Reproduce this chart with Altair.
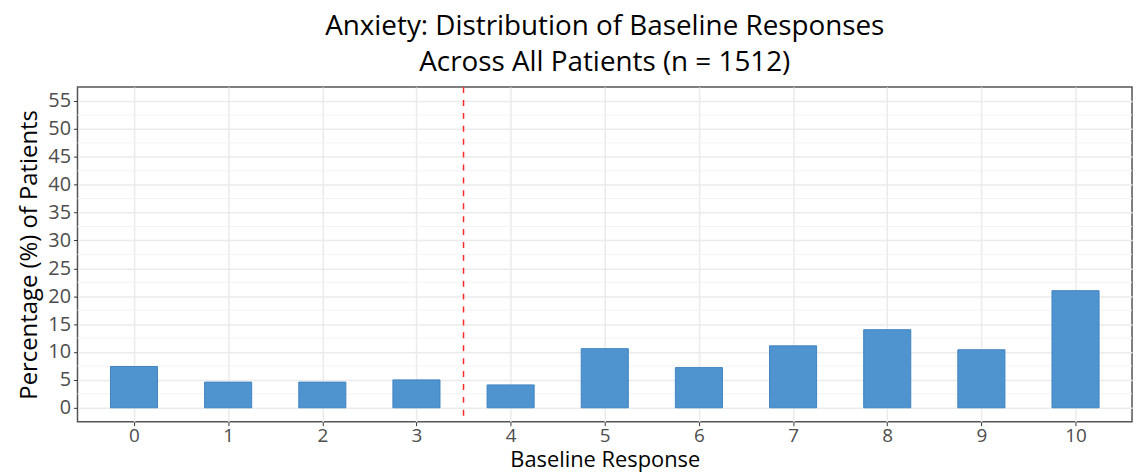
import altair as alt
import pandas as pd

responses = [0, 1, 2, 3, 4, 5, 6, 7, 8, 9, 10]
percentages = [7.4, 4.6, 4.6, 5.0, 4.1, 10.6, 7.2, 11.1, 14.0, 10.4, 21.0]
cutoff = [3.5]
major_y = [0, 5, 10, 15, 20, 25, 30, 35, 40, 45, 50, 55]
minor_y = [2.5, 7.5, 12.5, 17.5, 22.5, 27.5, 32.5, 37.5, 42.5, 47.5, 52.5]

df = pd.DataFrame({"resp": responses, "pct": percentages})

FONT = "Open Sans"
xscale = alt.Scale(domain=[-0.6, 10.6], nice=False, zero=False)
yscale = alt.Scale(domain=[-2.5, 57.5], nice=False, zero=False)

yaxis = alt.Axis(values=major_y, title="Percentage (%) of Patients", grid=True,
                 gridColor="#ebebeb", gridWidth=1.5,
                 labelFontSize=20, labelColor="#4d4d4d", labelFont=FONT,
                 titleFontSize=24, titleFont=FONT, titleColor="#000000",
                 titleFontWeight="normal", titlePadding=6,
                 tickColor="#333333", tickSize=4, domain=False,
                 labelPadding=3)
xaxis = alt.Axis(values=responses, title="Baseline Response", grid=True,
                 gridColor="#ebebeb", gridWidth=1.5,
                 labelFontSize=19, labelColor="#4d4d4d", labelFont=FONT,
                 titleFontSize=22, titleFont=FONT, titleColor="#000000",
                 titleFontWeight="normal", titlePadding=4,
                 tickColor="#333333", tickSize=4, domain=False,
                 labelPadding=1)

minor = alt.Chart(pd.DataFrame({"pct": minor_y})).mark_rule(
    color="#f3f3f3", strokeWidth=1
).encode(y=alt.Y("pct:Q", scale=yscale, axis=yaxis))

bars = alt.Chart(df).transform_calculate(
    x0="datum.resp - 0.25", x1="datum.resp + 0.25", base="0"
).mark_bar(color="#4f93cf", stroke="#3f84c2", strokeWidth=1).encode(
    x=alt.X("x0:Q", scale=xscale, axis=xaxis),
    x2="x1:Q",
    y=alt.Y("pct:Q", scale=yscale, axis=yaxis),
    y2="base:Q",
)

vline = alt.Chart(pd.DataFrame({"x0": cutoff})).mark_rule(
    color="#ff2b2b", strokeDash=[6, 7], strokeWidth=1.5
).encode(x=alt.X("x0:Q", scale=xscale, axis=xaxis))

chart = alt.layer(minor, bars, vline).properties(
    width=1062, height=337,
    title=alt.Title(["Anxiety: Distribution of Baseline Responses",
                     "Across All Patients (n = 1512)"],
                    fontSize=28, font=FONT, fontWeight="normal", color="#000000",
                    anchor="middle", lineHeight=37, offset=9),
    padding={"left": 70, "top": 78, "right": 3, "bottom": 52},
    autosize="none",
    background="white",
).configure_view(stroke="#555555", strokeWidth=1.5)

chart.save("out.html", embed_options={"renderer": "svg", "actions": False})
